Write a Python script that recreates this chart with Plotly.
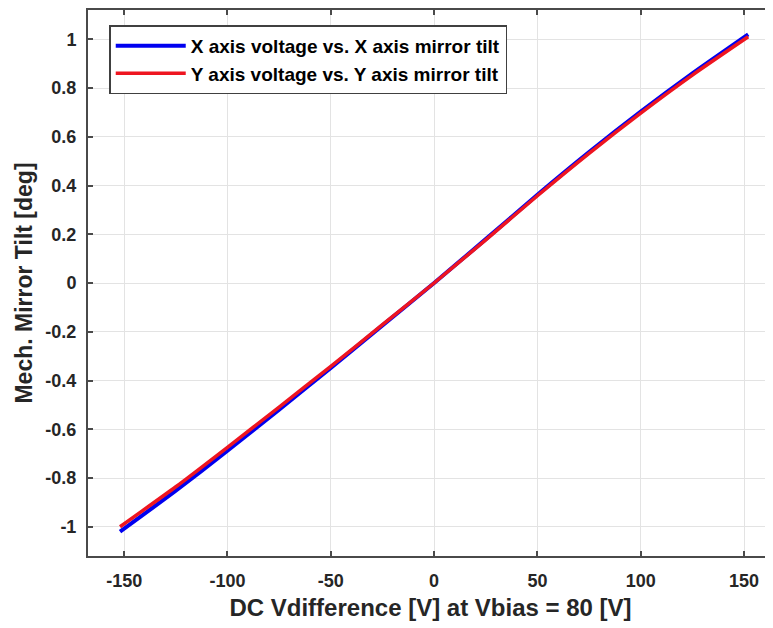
import plotly.graph_objects as go

# Data
x_volt = [-152, -125, -100, -75, -50, -25, 0, 25, 50, 75, 100, 125, 152]
x_tilt = [-1.02, -0.852, -0.688, -0.52, -0.348, -0.174, 0.0, 0.18, 0.362, 0.537, 0.703, 0.86, 1.02]
y_volt = [-152, -125, -100, -75, -50, -25, 0, 25, 50, 75, 100, 125, 152]
y_tilt = [-1.00, -0.836, -0.674, -0.509, -0.342, -0.171, 0.0, 0.177, 0.358, 0.532, 0.697, 0.853, 1.01]

x_ticks = [-150, -100, -50, 0, 50, 100, 150]
x_ticktext = ["-150", "-100", "-50", "0", "50", "100", "150"]
y_ticks = [-1, -0.8, -0.6, -0.4, -0.2, 0, 0.2, 0.4, 0.6, 0.8, 1]
y_ticktext = ["-1", "-0.8", "-0.6", "-0.4", "-0.2", "0", "0.2", "0.4", "0.6", "0.8", "1"]

FONT = "Liberation Sans, Arial, sans-serif"
TXT = "#262626"

fig = go.Figure()
fig.add_trace(go.Scatter(x=x_volt, y=x_tilt, mode="lines", line=dict(color="#0000F0", width=4, shape="spline", smoothing=0.6),
                         name="X axis voltage vs. X axis mirror tilt"))
fig.add_trace(go.Scatter(x=y_volt, y=y_tilt, mode="lines", line=dict(color="#EE1520", width=3.5, shape="spline", smoothing=0.6),
                         name="Y axis voltage vs. Y axis mirror tilt"))

axis_common = dict(showgrid=True, gridcolor="#E3E3E3", gridwidth=1, zeroline=False,
                   showline=True, linecolor="#4A4A4A", linewidth=2,
                   ticks="inside", ticklen=5, tickcolor="#4A4A4A", tickwidth=1.5,
                   tickfont=dict(family=FONT, size=18, color=TXT, weight="bold"))

fig.update_xaxes(range=[-167.5, 164], tickvals=x_ticks, ticktext=x_ticktext, mirror="ticks", ticklabelstandoff=7,
                 title=dict(text="DC Vdifference [V] at Vbias = 80 [V]", standoff=10,
                            font=dict(family=FONT, size=24, color=TXT, weight="bold")),
                 **axis_common)
fig.update_yaxes(range=[-1.12, 1.12], tickvals=y_ticks, ticktext=y_ticktext, mirror=False, ticklabelstandoff=6,
                 title=dict(text="Mech. Mirror Tilt [deg]", standoff=6,
                            font=dict(family=FONT, size=23, color=TXT, weight="bold")),
                 **axis_common)

fig.update_layout(
    width=773, height=628,
    margin=dict(l=80, r=8, t=0, b=80),
    paper_bgcolor="white", plot_bgcolor="white",
    showlegend=True,
    legend=dict(x=0.031, y=0.972, xanchor="left", yanchor="top",
                bgcolor="white", bordercolor="#404040", borderwidth=1.5,
                font=dict(family=FONT, size=19, color="#000000", weight="bold"),
                itemwidth=70, tracegroupgap=0),
)

fig.write_html("out.html")
